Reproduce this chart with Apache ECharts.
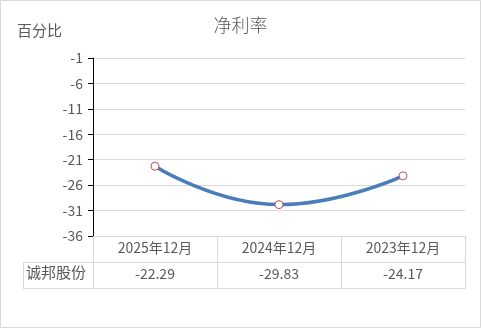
<!DOCTYPE html>
<html><head><meta charset="utf-8">
<script src="https://cdn.jsdelivr.net/npm/echarts@6/dist/echarts.min.js"></script>
<style>html,body{margin:0;padding:0;background:#fff}#c{width:481px;height:328px}</style>
</head><body><div id="c"></div>
<script>
var categories = ['2025年12月', '2024年12月', '2023年12月'];
var seriesName = '诚邦股份';
var values = [-22.29, -29.83, -24.17];
var yMin = -36, yMax = -1, yStep = 5;

var FONT = '"Noto Sans CJK SC", "Microsoft YaHei", sans-serif';
var GRID_L = 93, GRID_R = 16, GRID_T = 58, GRID_B = 92;
var ROW = 26;

var chart = echarts.init(document.getElementById('c'));
chart.setOption({
  animation: false,
  backgroundColor: '#fff',
  title: {
    text: '净利率', left: 'center', top: 11,
    textStyle: { fontFamily: FONT, fontSize: 18, fontWeight: 300, color: '#595959' }
  },
  grid: { left: GRID_L, right: GRID_R, top: GRID_T, bottom: GRID_B },
  xAxis: [
    {
      type: 'category', data: categories, position: 'bottom', boundaryGap: true,
      axisLine: { show: true, lineStyle: { color: '#d9d9d9', width: 1 } },
      axisTick: { show: true, alignWithLabel: false, length: ROW * 2, lineStyle: { color: '#d9d9d9' } },
      axisLabel: { fontFamily: FONT, fontSize: 14, color: '#595959', margin: 5 }
    },
    {
      type: 'category', data: values.map(function (v) { return v.toFixed(2); }),
      position: 'bottom', offset: ROW, boundaryGap: true,
      axisLine: { show: true, lineStyle: { color: '#d9d9d9', width: 1 } },
      axisTick: { show: false },
      axisLabel: { fontFamily: FONT, fontSize: 14, color: '#595959', margin: 5 }
    },
    {
      type: 'category', data: categories, position: 'bottom', offset: ROW * 2, boundaryGap: true,
      axisLine: { show: true, lineStyle: { color: '#d9d9d9', width: 1 } },
      axisTick: { show: false }, axisLabel: { show: false }
    }
  ],
  yAxis: {
    type: 'value', min: 0, max: yMax - yMin, interval: yStep,
    name: '百分比', nameLocation: 'end',
    nameTextStyle: { fontFamily: FONT, fontSize: 15, color: '#595959', align: 'left', padding: [0, 0, 5, -76] },
    axisLine: { show: true, lineStyle: { color: '#000', width: 1 } },
    axisTick: { show: true, length: 5, lineStyle: { color: '#000' } },
    axisLabel: {
      fontFamily: FONT, fontSize: 14, color: '#595959', margin: 10,
      formatter: function (v) { return String(v + yMin); }
    },
    splitLine: { show: true, lineStyle: { color: '#d9d9d9', width: 1 } }
  },
  series: [{
    name: seriesName, type: 'line', smooth: 0.5,
    data: values.map(function (v) { return v - yMin; }),
    symbol: 'circle', symbolSize: 8,
    lineStyle: { color: '#4a7ebb', width: 3.5 },
    itemStyle: { color: '#fff', borderColor: '#c0504d', borderWidth: 1 },
    z: 3
  }],
  graphic: [
    { type: 'rect', shape: { x: 0.5, y: 0.5, width: 480, height: 327 },
      style: { fill: 'none', stroke: '#d9d9d9', lineWidth: 1 }, silent: true },
    { type: 'line', shape: { x1: 23, y1: 262.5, x2: 93, y2: 262.5 }, style: { stroke: '#d9d9d9', lineWidth: 1 } },
    { type: 'line', shape: { x1: 23, y1: 288.5, x2: 93, y2: 288.5 }, style: { stroke: '#d9d9d9', lineWidth: 1 } },
    { type: 'line', shape: { x1: 23.5, y1: 262, x2: 23.5, y2: 289 }, style: { stroke: '#d9d9d9', lineWidth: 1 } },
    { type: 'text', left: 26, top: 265,
      style: { text: seriesName, font: '15px ' + FONT, fill: '#595959' } }
  ]
});
</script></body></html>
